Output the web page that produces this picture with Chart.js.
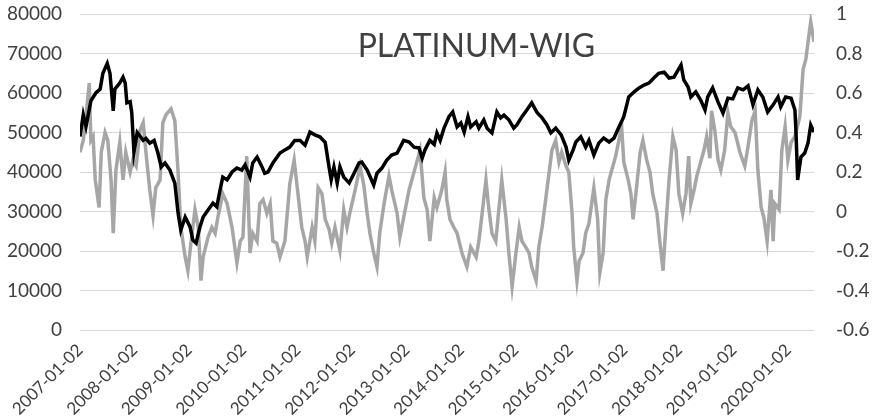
<!DOCTYPE html>
<html>
<head>
<meta charset="utf-8">
<script src="https://cdn.jsdelivr.net/npm/chart.js@4"></script>
<style>
  body { margin: 0; background: #fff; }
  #wrap { width: 872px; height: 418px; }
</style>
</head>
<body>
<div id="wrap"><canvas id="grafico" width="872" height="418"></canvas></div>
<script>
// Daty jako ułamek roku
const tickYears = [2007, 2008, 2009, 2010, 2011, 2012, 2013, 2014, 2015, 2016, 2017, 2018, 2019, 2020];

// WIG (lewa oś)
const wigDates = [
  2007.00, 2007.06, 2007.11, 2007.20, 2007.29, 2007.37, 2007.42, 2007.50, 2007.55, 2007.61, 2007.64, 2007.73, 2007.79, 2007.83, 2007.86, 2007.92, 2007.95, 2007.99,
  2008.05, 2008.16, 2008.21, 2008.28, 2008.36, 2008.43, 2008.49, 2008.56, 2008.65, 2008.74, 2008.80, 2008.85, 2008.93,
  2009.02, 2009.07, 2009.13, 2009.20, 2009.26, 2009.35, 2009.44, 2009.51, 2009.57, 2009.62, 2009.70, 2009.79, 2009.88, 2009.97,
  2010.03, 2010.12, 2010.17, 2010.25, 2010.34, 2010.39, 2010.45, 2010.54, 2010.67, 2010.76, 2010.85, 2010.94,
  2011.04, 2011.13, 2011.22, 2011.31, 2011.40, 2011.50, 2011.57, 2011.61, 2011.66, 2011.72, 2011.77, 2011.84, 2011.94,
  2012.03, 2012.12, 2012.17, 2012.27, 2012.39, 2012.45, 2012.54, 2012.63, 2012.72, 2012.82, 2012.94,
  2013.04, 2013.13, 2013.22, 2013.28, 2013.33, 2013.42, 2013.50, 2013.55, 2013.61, 2013.68, 2013.73, 2013.77, 2013.84, 2013.92, 2013.99,
  2014.05, 2014.12, 2014.17, 2014.27, 2014.32, 2014.41, 2014.47, 2014.56, 2014.65, 2014.72, 2014.78, 2014.87, 2014.96,
  2015.02, 2015.11, 2015.20, 2015.29, 2015.39, 2015.48, 2015.57, 2015.64, 2015.73, 2015.83, 2015.92, 2015.97,
  2016.05, 2016.10, 2016.19, 2016.28, 2016.34, 2016.43, 2016.52, 2016.61, 2016.71, 2016.80, 2016.89, 2016.98,
  2017.07, 2017.17, 2017.26, 2017.35, 2017.44, 2017.53, 2017.62, 2017.72, 2017.81, 2017.90,
  2018.03, 2018.08, 2018.16, 2018.21, 2018.30, 2018.39, 2018.47, 2018.52, 2018.61, 2018.71, 2018.80, 2018.89, 2018.98,
  2019.07, 2019.17, 2019.26, 2019.35, 2019.44, 2019.53, 2019.62, 2019.72, 2019.81, 2019.86, 2019.95,
  2020.05, 2020.12, 2020.14, 2020.17, 2020.23, 2020.30, 2020.36, 2020.41, 2020.47
];
const wigValues = [
  49000, 54500, 51500, 58000, 60000, 61000, 65000, 67500, 65000, 55500, 61000, 62500, 64000, 62500, 57500, 57800, 55000, 45000,
  50000, 48000, 48500, 47300, 48000, 44800, 41300, 42300, 40500, 37200, 29600, 25300, 28600,
  26100, 22800, 22000, 26000, 28600, 30400, 32100, 31200, 35400, 38700, 38000, 40000, 41000, 40500,
  41800, 38700, 42300, 43800, 41300, 39700, 40000, 42300, 44800, 45600, 46300, 48000,
  48000, 46800, 50100, 49400, 48900, 47500, 41300, 38000, 41300, 37200, 41300, 38700, 37200,
  39700, 42300, 42500, 40500, 36700, 39700, 41000, 43000, 44300, 44800, 48000,
  47600, 46300, 46100, 43500, 45600, 48000, 47000, 49900, 48000, 51100, 52700, 54000, 55200, 51400, 52400,
  50100, 54000, 51400, 52700, 51100, 53200, 51100, 49900, 55200, 53700, 54400, 53200, 51100,
  52000, 54000, 55700, 57500, 55000, 53700, 51900, 49900, 51100, 49400, 46300, 43000,
  45600, 47600, 48900, 46300, 48000, 44300, 47300, 48600, 47600, 48600, 51400, 54000,
  59000, 60300, 61300, 62000, 62500, 63800, 65000, 65300, 63800, 64000,
  67100, 63300, 61500, 59000, 60300, 58200, 55700, 59000, 61300, 57700, 54900, 58700, 58500,
  61300, 60800, 61800, 57000, 60800, 59000, 55200, 57000, 59000, 56500, 59000,
  58700, 55700, 49900, 38000, 43800, 44800, 47300, 51900, 50100
];

// Korelacja PLATINUM-WIG (prawa oś)
const corrDates = [
  2007.00, 2007.06, 2007.11, 2007.17, 2007.20, 2007.24, 2007.28, 2007.35, 2007.39, 2007.46, 2007.51, 2007.57, 2007.61, 2007.66, 2007.73, 2007.79, 2007.84, 2007.92, 2007.97,
  2008.03, 2008.10, 2008.16, 2008.21, 2008.28, 2008.34, 2008.39, 2008.47, 2008.52, 2008.58, 2008.67, 2008.74, 2008.80, 2008.85, 2008.93, 2008.98,
  2009.04, 2009.11, 2009.17, 2009.22, 2009.26, 2009.35, 2009.42, 2009.48, 2009.53, 2009.62, 2009.70, 2009.79, 2009.88, 2009.94, 2009.99,
  2010.06, 2010.12, 2010.17, 2010.25, 2010.30, 2010.36, 2010.43, 2010.49, 2010.54, 2010.61, 2010.67, 2010.76, 2010.85, 2010.93,
  2011.00, 2011.07, 2011.13, 2011.17, 2011.26, 2011.31, 2011.37, 2011.44, 2011.50, 2011.57, 2011.62, 2011.68, 2011.77, 2011.84, 2011.90, 2011.95,
  2012.05, 2012.14, 2012.21, 2012.27, 2012.32, 2012.39, 2012.45, 2012.50, 2012.58, 2012.67, 2012.72, 2012.82, 2012.87, 2012.94,
  2013.04, 2013.09, 2013.18, 2013.24, 2013.31, 2013.37, 2013.42, 2013.50, 2013.55, 2013.64, 2013.70, 2013.73, 2013.79, 2013.86, 2013.92,
  2014.01, 2014.10, 2014.17, 2014.27, 2014.32, 2014.38, 2014.45, 2014.50, 2014.56, 2014.63, 2014.69, 2014.74, 2014.82, 2014.87, 2014.93,
  2015.00, 2015.06, 2015.11, 2015.18, 2015.24, 2015.29, 2015.37, 2015.42, 2015.48, 2015.55, 2015.61, 2015.66, 2015.73, 2015.79, 2015.84, 2015.92, 2015.97,
  2016.03, 2016.06, 2016.12, 2016.16, 2016.23, 2016.28, 2016.34, 2016.43, 2016.50, 2016.54, 2016.60, 2016.65, 2016.71, 2016.78, 2016.83, 2016.89, 2016.94, 2016.98,
  2017.06, 2017.11, 2017.15, 2017.22, 2017.28, 2017.33, 2017.40, 2017.46, 2017.51, 2017.59, 2017.64, 2017.70, 2017.75, 2017.81, 2017.88, 2017.94, 2017.99,
  2018.06, 2018.12, 2018.17, 2018.21, 2018.27, 2018.32, 2018.39, 2018.45, 2018.50, 2018.56, 2018.59, 2018.65, 2018.71, 2018.76, 2018.83, 2018.89, 2018.94,
  2019.02, 2019.11, 2019.20, 2019.26, 2019.33, 2019.39, 2019.44, 2019.50, 2019.55, 2019.61, 2019.68, 2019.72, 2019.75, 2019.83, 2019.88, 2019.94, 2019.99,
  2020.05, 2020.12, 2020.21, 2020.27, 2020.32, 2020.39, 2020.41, 2020.47
];
const corrValues = [
  0.30, 0.36, 0.48, 0.65, 0.36, 0.38, 0.16, 0.02, 0.30, 0.40, 0.36, 0.16, -0.11, 0.21, 0.35, 0.16, 0.30, 0.20, 0.26,
  0.23, 0.41, 0.45, 0.30, 0.11, -0.02, 0.12, 0.16, 0.45, 0.49, 0.52, 0.46, 0.20, -0.08, -0.23, -0.30,
  -0.15, 0.01, -0.08, -0.35, -0.23, -0.13, -0.08, -0.11, -0.03, 0.09, 0.04, -0.08, -0.26, -0.15, -0.13,
  0.28, -0.21, -0.11, -0.15, 0.04, 0.06, -0.01, 0.04, -0.15, -0.16, -0.23, -0.15, 0.14, 0.26,
  0.09, -0.08, -0.15, -0.23, -0.08, -0.15, 0.12, 0.09, -0.04, -0.09, -0.16, -0.08, -0.20, 0.01, -0.08, -0.01,
  0.11, 0.23, 0.13, -0.01, -0.11, -0.21, -0.28, -0.11, 0.04, 0.18, 0.11, -0.01, -0.13, -0.03,
  0.11, 0.16, 0.25, 0.31, 0.07, 0.01, -0.15, 0.07, 0.02, 0.11, 0.20, 0.06, -0.04, -0.08, -0.11,
  -0.21, -0.28, -0.18, -0.23, -0.15, -0.01, 0.16, 0.02, -0.11, -0.15, 0.02, 0.16, -0.04, -0.21, -0.38,
  -0.21, -0.08, -0.15, -0.18, -0.21, -0.28, -0.35, -0.18, -0.08, 0.07, 0.20, 0.31, 0.36, 0.25, 0.30, 0.23, 0.20,
  -0.01, -0.18, -0.35, -0.25, -0.21, -0.11, -0.06, 0.12, -0.04, -0.31, -0.21, 0.06, 0.16, 0.23, 0.28, 0.36, 0.43, 0.25,
  0.16, 0.09, -0.04, 0.14, 0.30, 0.36, 0.26, 0.20, 0.09, -0.01, -0.15, -0.30, -0.08, 0.16, 0.38, 0.31, 0.09,
  -0.01, 0.09, 0.28, 0.04, 0.11, 0.18, 0.25, 0.31, 0.38, 0.27, 0.51, 0.41, 0.26, 0.21, 0.31, 0.50, 0.43,
  0.40, 0.30, 0.23, 0.33, 0.46, 0.51, 0.21, 0.02, -0.03, -0.15, 0.11, -0.15, 0.04, 0.01, 0.31, 0.43, 0.26,
  0.35, 0.38, 0.48, 0.72, 0.77, 0.92, 0.96, 0.86
];

const tytul = 'PLATINUM-WIG';
const fonte = 'Lato, "Open Sans", sans-serif';

// tytuł rysowany wewnątrz obszaru wykresu
const tytulPlugin = {
  id: 'tytulWewnatrz',
  afterDatasetsDraw(chart) {
    const { ctx, chartArea } = chart;
    ctx.save();
    ctx.font = '32px ' + fonte;
    ctx.fillStyle = '#404040';
    ctx.textAlign = 'center';
    ctx.textBaseline = 'alphabetic';
    ctx.fillText(tytul, chartArea.left + chartArea.width * 0.54, chartArea.top + 43);
    ctx.restore();
  }
};

const ctx = document.getElementById('grafico').getContext('2d');

new Chart(ctx, {
  type: 'line',
  data: {
    datasets: [
      {
        label: 'WIG',
        data: wigDates.map((d, i) => ({ x: d, y: wigValues[i] })),
        borderColor: '#000000',
        borderWidth: 3.5,
        pointRadius: 0,
        tension: 0,
        yAxisID: 'y',
        order: 0
      },
      {
        label: 'Korelacja',
        data: corrDates.map((d, i) => ({ x: d, y: corrValues[i] })),
        borderColor: '#a6a6a6',
        borderWidth: 3.5,
        pointRadius: 0,
        tension: 0,
        yAxisID: 'y1',
        order: 1
      }
    ]
  },
  options: {
    responsive: false,
    animation: false,
    layout: { padding: { top: 14, left: 0, right: 0, bottom: 0 } },
    plugins: {
      legend: { display: false },
      tooltip: { enabled: false }
    },
    scales: {
      x: {
        type: 'linear',
        min: 2007,
        max: 2020.47,
        grid: { display: false },
        border: { display: false },
        afterBuildTicks: s => { s.ticks = tickYears.map(v => ({ value: v })); },
        afterFit: s => { s.height = 88; },
        ticks: {
          autoSkip: false,
          maxRotation: 45,
          minRotation: 45,
          padding: 2,
          color: '#404040',
          font: { family: fonte, size: 17 },
          callback: v => v + '-01-02'
        }
      },
      y: {
        position: 'left',
        min: 0,
        max: 80000,
        afterFit: s => { s.width = 80; },
        // odstęp etykiet przez niewidoczne kreski podziałki
        grid: { color: '#d9d9d9', lineWidth: 1, drawTicks: true, tickLength: 18, tickColor: 'rgba(0,0,0,0)' },
        border: { display: false },
        ticks: {
          stepSize: 10000,
          padding: 0,
          color: '#404040',
          font: { family: fonte, size: 19 },
          callback: v => String(v)
        }
      },
      y1: {
        position: 'right',
        min: -0.6,
        max: 1,
        afterFit: s => { s.width = 58; },
        grid: { display: true, drawOnChartArea: false, drawTicks: true, tickLength: 22, tickColor: 'rgba(0,0,0,0)' },
        border: { display: false },
        ticks: {
          stepSize: 0.2,
          padding: 0,
          color: '#404040',
          font: { family: fonte, size: 19 },
          callback: v => String(Number(v.toFixed(1)))
        }
      }
    }
  },
  plugins: [tytulPlugin]
});
</script>
</body>
</html>
